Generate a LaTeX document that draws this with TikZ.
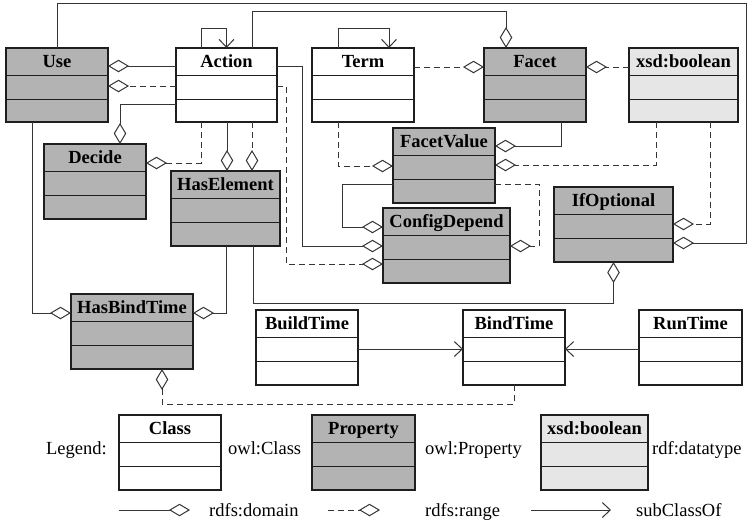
\documentclass[tikz,border=0pt]{standalone}
\usepackage{fontspec}
\setmainfont{Liberation Serif}
\usetikzlibrary{arrows.meta,calc,fit}

\definecolor{boxline}{HTML}{1E1E1E}
\definecolor{conline}{HTML}{353535}
\definecolor{propfill}{HTML}{B3B3B3}
\definecolor{dtfill}{HTML}{E6E6E6}

\tikzset{
  clsbox/.style={draw=boxline, line width=1.4pt, inner sep=0pt, outer sep=0pt, fill=white},
  propbox/.style={clsbox, fill=propfill},
  dtbox/.style={clsbox, fill=dtfill},
  rowline/.style={draw=boxline, line width=1.4pt},
  clstitle/.style={font=\fontsize{18.5}{22}\selectfont\bfseries, anchor=base, inner sep=0pt},
  legtext/.style={font=\fontsize{18.5}{22}\selectfont, inner sep=0pt},
  domline/.style={draw=conline, line width=1pt, -{Diamond[open, length=21pt, width=12.5pt]}},
  rngline/.style={domline, dash pattern=on 6pt off 4pt},
  subline/.style={draw=conline, line width=1pt, -{Straight Barb[length=8pt, width=15pt]}},
}

% class box: name, x1, y1, x2, y2, style, title
\newcommand\umlcls[7]{%
  \node[#6, fit={(#2,#3) (#4,#5)}] (#1) {};
  \draw[rowline] ($(#1.north west)+(0,27.5)$) -- ($(#1.north east)+(0,27.5)$);
  \draw[rowline] ($(#1.north west)+(0,51.5)$) -- ($(#1.north east)+(0,51.5)$);
  \node[clstitle] (#1-title) at ($(#1.north)+(0,19)$) {#7};
}

\begin{document}
\begin{tikzpicture}[x=1pt, y=-1pt]
\useasboundingbox (0,0) rectangle (749,523);

% classes and properties
\umlcls{use}{6}{48}{108}{122}{propbox}{Use}
\umlcls{act}{176}{48}{277}{122}{clsbox}{Action}
\umlcls{term}{312}{48}{414}{122}{clsbox}{Term}
\umlcls{facet}{484}{48}{586}{122}{propbox}{Facet}
\umlcls{xbool}{629}{48}{738}{122}{dtbox}{xsd:boolean}
\umlcls{decide}{44}{144}{146}{219}{propbox}{Decide}
\umlcls{haselem}{171}{171}{280}{246}{propbox}{HasElement}
\umlcls{fval}{393}{128}{495}{203}{propbox}{FacetValue}
\umlcls{cdep}{383}{208}{510}{283}{propbox}{ConfigDepend}
\umlcls{ifopt}{554}{187}{673}{262}{propbox}{IfOptional}
\umlcls{hbt}{71}{294}{193}{369}{propbox}{HasBindTime}
\umlcls{build}{256}{310}{358}{385}{clsbox}{BuildTime}
\umlcls{bind}{463}{310}{565}{385}{clsbox}{BindTime}
\umlcls{run}{639}{310}{742}{385}{clsbox}{RunTime}

% relations
\draw[domline] (use.north) |- (746,3) |- (ifopt.east |- 0,243);
\draw[domline] (act.north -| 252,0) |- (506,11) -- (facet.north -| 506,0);
\draw[subline] (act.north -| 201,0) |- (act.north |- 0,28) -- (act.north);
\draw[subline] (term.north -| 338,0) |- (389,28) -- (term.north -| 389,0);
\draw[domline] (act.west |- 0,66) -- (use.east |- 0,66);
\draw[rngline] (act.west |- 0,86) -- (use.east |- 0,86);
\draw[rngline] (act.east |- 0,86) -| (286,264) -- (cdep.west |- 0,264);
\draw[domline] (act.east |- 0,66) -| (302,246) -- (cdep.west |- 0,246);
\draw[domline] (act.west |- 0,104) -| (decide.north -| 120,0);
\draw[rngline] (act.south -| 201,0) |- (decide.east |- 0,163);
\draw[domline] (act.south -| 227,0) -- (haselem.north -| 227,0);
\draw[rngline] (act.south -| 252,0) -- (haselem.north -| 252,0);
\draw[domline] (use.south -| 32,0) |- (hbt.west |- 0,313);
\draw[domline] (haselem.south -| 226,0) |- (hbt.east |- 0,313);
\draw[domline] (haselem.south -| 253,0) |- (ifopt.south |- 0,303) -- (ifopt.south);
\draw[rngline] (term.south -| 338,0) |- (fval.west |- 0,166);
\draw[rngline] (term.east |- 0,67) -- (facet.west |- 0,67);
\draw[rngline] (xbool.west |- 0,67) -- (facet.east |- 0,67);
\draw[domline] (facet.south -| 561,0) |- (fval.east |- 0,146);
\draw[rngline] (xbool.south -| 656,0) |- (fval.east |- 0,165);
\draw[rngline] (xbool.south -| 710,0) |- (ifopt.east |- 0,224);
\draw[domline] (fval.west |- 0,184) -| (342,227) -- (cdep.west |- 0,227);
\draw[rngline] (fval.east |- 0,184) -| (539,246) -- (cdep.east |- 0,246);
\draw[rngline] (bind.south) |- (162,404) -- (hbt.south -| 162,0);
\draw[subline] (build.east |- 0,349) -- (bind.west |- 0,349);
\draw[subline] (run.west |- 0,349) -- (bind.east |- 0,349);

% legend
\node[legtext, anchor=base east] (leg) at (107,454) {Legend:};
\umlcls{lcls}{119}{415}{221}{490}{clsbox}{Class}
\node[legtext, anchor=base west] (lcls-txt) at (228,454) {owl:Class};
\umlcls{lprop}{312}{415}{415}{490}{propbox}{Property}
\node[legtext, anchor=base west] (lprop-txt) at (425,454) {owl:Property};
\umlcls{ldt}{541}{415}{648}{490}{dtbox}{xsd:boolean}
\node[legtext, anchor=base west] (ldt-txt) at (652,454) {rdf:datatype};

\coordinate (dom-a) at (119,510);
\coordinate (dom-b) at (190,510);
\draw[domline] (dom-a) -- (dom-b);
\node[legtext, anchor=base west] (dom-txt) at (209,516) {rdfs:domain};
\coordinate (rng-a) at (328,510);
\coordinate (rng-b) at (380,510);
\draw[rngline] (rng-a) -- (rng-b);
\node[legtext, anchor=base west] (rng-txt) at (425,516) {rdfs:range};
\coordinate (sub-a) at (531,510);
\coordinate (sub-b) at (611,510);
\draw[subline] (sub-a) -- (sub-b);
\node[legtext, anchor=base west] (sub-txt) at (636,516) {subClassOf};
\end{tikzpicture}
\end{document}
